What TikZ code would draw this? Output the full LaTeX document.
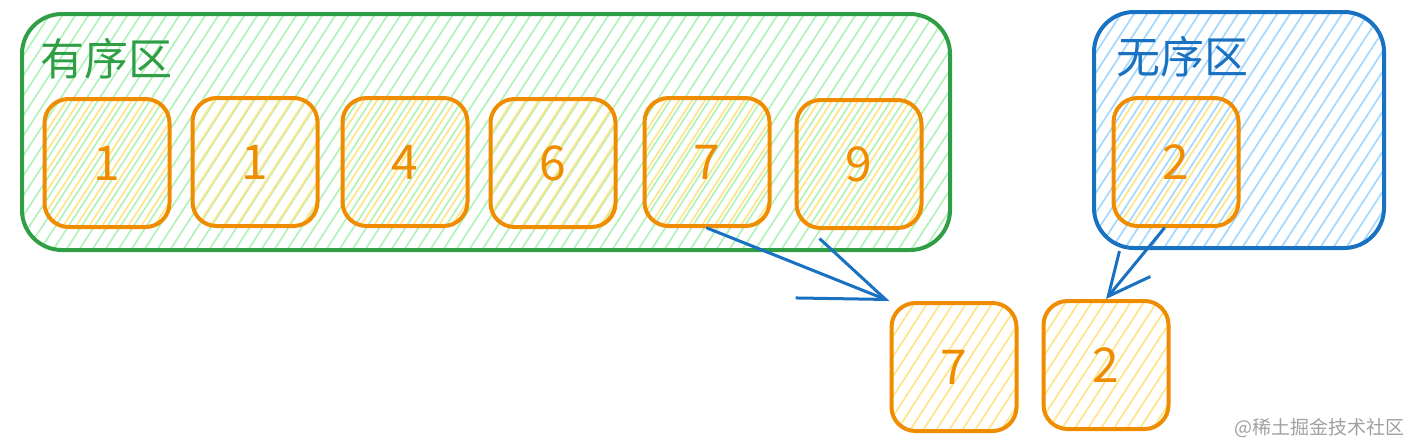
\documentclass[tikz,border=0pt]{standalone}
\usepackage{fontspec}
\newfontfamily\cjk{Noto Sans CJK SC}
\usetikzlibrary{arrows.meta,calc}
\definecolor{gstroke}{HTML}{2F9E44}
\definecolor{ghatch}{HTML}{B2F2BB}
\definecolor{bstroke}{HTML}{1971C2}
\definecolor{bhatch}{HTML}{A5D8FF}
\definecolor{ostroke}{HTML}{F08C00}
\definecolor{ohatch}{HTML}{FFE58A}
\definecolor{wmgray}{HTML}{A0A0A0}
\tikzset{
  hatch/.style={path picture={
    \coordinate (hsw) at (path picture bounding box.south west);
    \foreach \k in {0,...,100}
      \draw[#1, line width=0.85pt] ([xshift=\k*6.5pt-160pt]hsw) -- ++(57:300pt);
  }},
  region/.style={draw=#1, line width=2pt, rounded corners=20pt, inner sep=0pt},
  numbox/.style={draw=ostroke, line width=2pt, rounded corners=12pt, hatch=ohatch,
    minimum width=62.5pt, minimum height=64pt, inner sep=0pt, text=ostroke,
    font=\cjk\fontsize{24}{24}\selectfont},
  lab/.style={anchor=north west, inner sep=0pt, font=\cjk\fontsize{22}{22}\selectfont},
  arr/.style={draw=bstroke, line width=1.5pt, line cap=round, line join=round},
}
\begin{document}
\begin{tikzpicture}[x=0.5pt,y=-0.5pt]
\useasboundingbox (0,0) rectangle (1412,446);
% regions
\node[region=gstroke, hatch=ghatch, minimum width=464pt, minimum height=118pt] (ordered) at (486,132) {};
\node[region=bstroke, hatch=bhatch, minimum width=145pt, minimum height=118pt] (unordered) at (1239,130) {};
\node[lab, text=gstroke] (ordlab) at (40,38) {有序区};
\node[lab, text=bstroke] (unordlab) at (1116,36) {无序区};
% sorted boxes
\node[numbox] (b1) at (107,163) {1};
\node[numbox] (b2) at (255,162) {1};
\node[numbox] (b3) at (405,162) {4};
\node[numbox] (b4) at (553,163) {6};
\node[numbox] (b5) at (707,162) {7};
\node[numbox] (b6) at (859,164) {9};
% unsorted box
\node[numbox] (bu) at (1176,162) {2};
% result boxes
\node[numbox] (r7) at (954,367) {7};
\node[numbox] (r2) at (1106,365) {2};
% arrows
\draw[arr, -{Straight Barb[length=42pt,width=32pt,line width=1.5pt]}] (b5.south) -- (r7.north west);
\draw[arr, -{Straight Barb[length=21pt,width=20pt,line width=1.5pt]}] (bu.260) -- (r2.north);
% watermark
\node[anchor=east, inner sep=0pt, text=wmgray, font=\cjk\fontsize{9.5}{9.5}\selectfont] (wm) at (1405,428) {@稀土掘金技术社区};
\end{tikzpicture}
\end{document}
